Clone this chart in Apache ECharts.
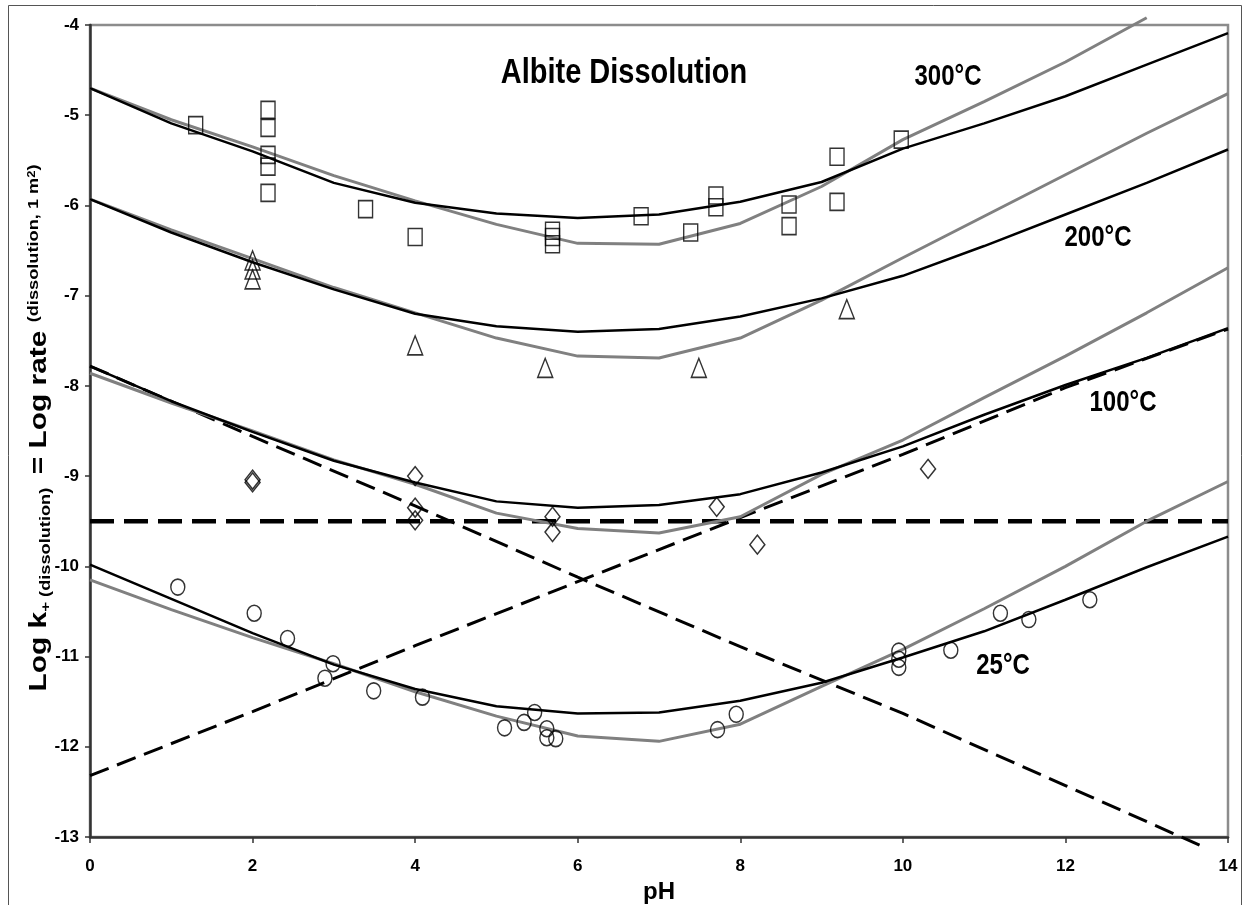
<!DOCTYPE html>
<html>
<head>
<meta charset="utf-8">
<title>Albite Dissolution</title>
<script src="https://cdn.jsdelivr.net/npm/echarts@6/dist/echarts.min.js"></script>
<style>
  html, body { margin: 0; padding: 0; background: #fff; }
  #main { width: 1251px; height: 905px; }
</style>
</head>
<body>
<div id="main"></div>
<script>
// model curves, sampled at integer pH
const phGrid = [0, 1, 2, 3, 4, 5, 6, 7, 8, 9, 10, 11, 12, 13, 14];

const black300 = [-4.70, -5.09, -5.40, -5.75, -5.97, -6.09, -6.14, -6.10, -5.96, -5.74, -5.37, -5.09, -4.79, -4.44, -4.09];
const gray300  = [-4.70, -5.05, -5.35, -5.67, -5.95, -6.21, -6.42, -6.43, -6.20, -5.79, -5.27, -4.85, -4.41, -3.92];
const black200 = [-5.93, -6.30, -6.63, -6.93, -7.20, -7.34, -7.40, -7.37, -7.23, -7.03, -6.78, -6.45, -6.10, -5.75, -5.38];
const gray200  = [-5.93, -6.27, -6.59, -6.91, -7.19, -7.47, -7.67, -7.69, -7.47, -7.05, -6.58, -6.12, -5.66, -5.20, -4.76];
const black100 = [-7.78, -8.17, -8.51, -8.83, -9.07, -9.28, -9.35, -9.32, -9.20, -8.96, -8.67, -8.32, -7.99, -7.69, -7.36];
const gray100  = [-7.86, -8.19, -8.50, -8.82, -9.09, -9.41, -9.58, -9.63, -9.45, -8.98, -8.60, -8.13, -7.67, -7.19, -6.69];
const black25  = [-9.98, -10.36, -10.74, -11.09, -11.36, -11.55, -11.63, -11.62, -11.49, -11.29, -11.01, -10.72, -10.37, -10.01, -9.67];
const gray25   = [-10.15, -10.48, -10.79, -11.08, -11.39, -11.66, -11.88, -11.94, -11.75, -11.33, -10.92, -10.47, -10.00, -9.50, -9.06];

// 25°C mechanism lines (dashed)
const acidPH  = [0, 2, 4, 6, 8, 10, 12, 13.65];
const acidLog = [-7.78, -8.56, -9.33, -10.12, -10.89, -11.63, -12.43, -13.09];
const basePH  = [0, 2, 4, 6, 8, 10, 12, 14];
const baseLog = [-12.32, -11.61, -10.88, -10.17, -9.46, -8.76, -8.02, -7.37];
const neutralPH  = [0, 14];
const neutralLog = [-9.5, -9.5];

// measured rates
const pH300  = [1.30, 2.19, 2.19, 2.19, 2.19, 2.19, 3.39, 4.00, 5.69, 5.69, 5.69, 6.78, 7.39, 7.70, 7.70, 8.60, 8.60, 9.19, 9.19, 9.98];
const log300 = [-5.11, -4.94, -5.14, -5.44, -5.57, -5.86, -6.04, -6.35, -6.28, -6.35, -6.43, -6.12, -6.30, -5.89, -6.02, -5.99, -6.23, -5.46, -5.96, -5.27];
const pH200  = [2.00, 2.00, 2.00, 4.00, 5.60, 7.49, 9.31];
const log200 = [-6.61, -6.71, -6.82, -7.55, -7.80, -7.80, -7.15];
const pH100  = [2.00, 2.00, 4.00, 4.00, 4.00, 5.69, 5.69, 7.71, 8.21, 10.31];
const log100 = [-9.04, -9.07, -9.00, -9.35, -9.49, -9.45, -9.62, -9.34, -9.76, -8.92];
const pH25   = [1.08, 2.02, 2.43, 2.99, 2.89, 3.49, 4.09, 5.10, 5.34, 5.47, 5.62, 5.62, 5.73, 7.72, 7.95, 9.95, 9.95, 9.95, 10.59, 11.20, 11.55, 12.30];
const log25  = [-10.23, -10.52, -10.80, -11.08, -11.24, -11.38, -11.45, -11.79, -11.73, -11.62, -11.80, -11.90, -11.91, -11.81, -11.64, -10.94, -11.03, -11.12, -10.93, -10.52, -10.59, -10.37];

const tempLabels = ['300°C', '200°C', '100°C', '25°C'];

const pairs = (xs, ys) => ys.map((y, i) => [xs[i], y]);

const FONT = 'Liberation Sans, Arial, Helvetica, sans-serif';

const curve = (data, color, width) => ({
  type: 'line',
  data: data,
  symbol: 'none',
  silent: true,
  lineStyle: { color: color, width: width },
  z: 3
});

const dashed = (data, width, dash, clip) => ({
  type: 'line',
  data: data,
  symbol: 'none',
  silent: true,
  clip: clip,
  lineStyle: { color: '#000', width: width, type: dash },
  z: 2
});

const points = (data, symbol, size) => ({
  type: 'scatter',
  data: data,
  symbol: symbol,
  symbolSize: size,
  itemStyle: { color: 'rgba(0,0,0,0)', borderColor: '#000', borderWidth: 1.5 },
  z: 4
});

const chart = echarts.init(document.getElementById('main'));

chart.setOption({
  animation: false,
  backgroundColor: '#fff',
  grid: {
    left: 90, right: 23, top: 25, bottom: 68,
    outerBoundsMode: 'none',
    show: true,
    borderColor: '#8c8c8c',
    borderWidth: 2.5,
    backgroundColor: 'transparent'
  },
  xAxis: {
    type: 'value',
    min: 0, max: 14, interval: 2,
    name: 'pH',
    nameLocation: 'middle',
    nameGap: 31,
    nameTextStyle: { fontFamily: FONT, fontWeight: 'bold', fontSize: 24, color: '#000' },
    axisLine: { lineStyle: { color: '#333', width: 2.5 } },
    axisTick: { length: 6, lineStyle: { color: '#333', width: 1.5 } },
    axisLabel: { margin: 21, fontFamily: FONT, fontWeight: 'bold', fontSize: 17, color: '#000' },
    splitLine: { show: false }
  },
  yAxis: {
    type: 'value',
    min: -13, max: -4, interval: 1,
    axisLine: { show: true, lineStyle: { color: '#333', width: 2.5 } },
    axisTick: { show: true, length: 5, lineStyle: { color: '#333', width: 1.5 } },
    axisLabel: { margin: 11, fontFamily: FONT, fontWeight: 'bold', fontSize: 17, color: '#000' },
    splitLine: { show: false }
  },
  graphic: [
    {
      type: 'rect', z: -10, silent: true,
      shape: { x: 8.5, y: 5.5, width: 1233, height: 920 },
      style: { fill: 'none', stroke: '#555', lineWidth: 1 }
    },
    {
      type: 'text', x: 624, y: 73, scaleY: 1.22, silent: true,
      style: { text: 'Albite Dissolution', fontFamily: FONT, fontWeight: 'bold', fontSize: 29, fill: '#000', align: 'center', verticalAlign: 'middle' }
    },
    {
      type: 'text', x: 948, y: 77, scaleY: 1.25, silent: true,
      style: { text: tempLabels[0], fontFamily: FONT, fontWeight: 'bold', fontSize: 24, fill: '#000', align: 'center', verticalAlign: 'middle' }
    },
    {
      type: 'text', x: 1098, y: 238, scaleY: 1.25, silent: true,
      style: { text: tempLabels[1], fontFamily: FONT, fontWeight: 'bold', fontSize: 24, fill: '#000', align: 'center', verticalAlign: 'middle' }
    },
    {
      type: 'text', x: 1123, y: 403, scaleY: 1.25, silent: true,
      style: { text: tempLabels[2], fontFamily: FONT, fontWeight: 'bold', fontSize: 24, fill: '#000', align: 'center', verticalAlign: 'middle' }
    },
    {
      type: 'text', x: 1003, y: 666, scaleY: 1.25, silent: true,
      style: { text: tempLabels[3], fontFamily: FONT, fontWeight: 'bold', fontSize: 24, fill: '#000', align: 'center', verticalAlign: 'middle' }
    },
    {
      // y axis title, rotated and stretched along its length
      type: 'text', x: 40, y: 428, rotation: Math.PI / 2, scaleX: 1.3, silent: true,
      style: {
        text: '{b|Log k}{p|+}{sub| (dissolution) }{b| = Log rate }{sup|(dissolution, 1 m}{sq|2}{sup|)}',
        align: 'center',
        verticalAlign: 'middle',
        fill: '#000',
        rich: {
          b:   { fontFamily: FONT, fontWeight: 'bold', fontSize: 23, fill: '#000', lineHeight: 26 },
          p:   { fontFamily: FONT, fontWeight: 'bold', fontSize: 13, fill: '#000', verticalAlign: 'bottom' },
          sub: { fontFamily: FONT, fontWeight: 'bold', fontSize: 14, fill: '#000', verticalAlign: 'bottom' },
          sup: { fontFamily: FONT, fontWeight: 'bold', fontSize: 14, fill: '#000', verticalAlign: 'top' },
          sq:  { fontFamily: FONT, fontWeight: 'bold', fontSize: 10, fill: '#000', verticalAlign: 'top' }
        }
      }
    }
  ],
  series: [
    dashed(pairs(neutralPH, neutralLog), 4.5, [24, 10], true),
    dashed(pairs(acidPH, acidLog), 3, [20, 9], false),
    dashed(pairs(basePH, baseLog), 3, [20, 9], true),
    Object.assign(curve(pairs(phGrid, gray300), '#808080', 3), { clip: false }),
    curve(pairs(phGrid, gray200), '#808080', 3),
    curve(pairs(phGrid, gray100), '#808080', 3),
    curve(pairs(phGrid, gray25), '#808080', 3),
    curve(pairs(phGrid, black300), '#000', 2.5),
    curve(pairs(phGrid, black200), '#000', 2.5),
    curve(pairs(phGrid, black100), '#000', 2.5),
    curve(pairs(phGrid, black25), '#000', 2.5),
    points(pairs(pH300, log300), 'rect', [14, 17]),
    points(pairs(pH200, log200), 'triangle', [15, 19]),
    points(pairs(pH100, log100), 'diamond', [15, 19]),
    points(pairs(pH25, log25), 'path://M0,50A50,50,0,1,1,100,50A50,50,0,1,1,0,50Z', [14, 16])
  ]
});
</script>
</body>
</html>
